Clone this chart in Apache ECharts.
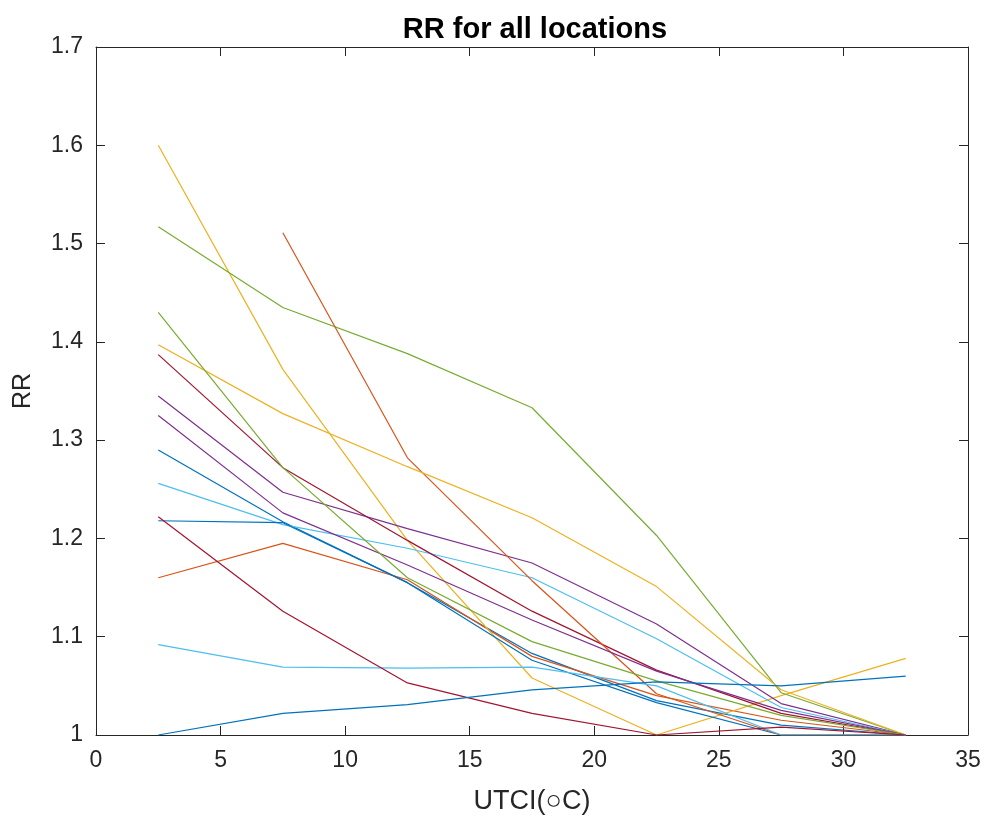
<!DOCTYPE html>
<html>
<head>
<meta charset="utf-8">
<script src="https://cdn.jsdelivr.net/npm/echarts@6/dist/echarts.min.js"></script>
<style>
html,body{margin:0;padding:0;background:#fff;}
#chart{width:984px;height:821px;}
</style>
</head>
<body>
<div id="chart"></div>
<script>
const utci = [2.5, 7.5, 12.5, 17.5, 22.5, 27.5, 32.5];
const xTicks = [0, 5, 10, 15, 20, 25, 30, 35];
const yTicks = [1, 1.1, 1.2, 1.3, 1.4, 1.5, 1.6, 1.7];

const loc01 = [1.290, 1.217, 1.155, 1.083, 1.035, 1.010, 1.000];
const loc02 = [1.160, 1.195, 1.158, 1.080, 1.040, 1.015, 1.000];
const loc03 = [1.600, 1.372, 1.198, 1.058, 1.000, 1.040, 1.078];
const loc04 = [1.345, 1.247, 1.210, 1.175, 1.113, 1.032, 1.000];
const loc05 = [1.517, 1.435, 1.388, 1.333, 1.203, 1.043, 1.000];
const loc06 = [1.256, 1.214, 1.190, 1.160, 1.098, 1.028, 1.000];
const loc07 = [1.387, 1.272, 1.198, 1.126, 1.066, 1.022, 1.000];
const loc08 = [1.218, 1.216, 1.155, 1.076, 1.033, 1.000, 1.000];
const loc09 = [null, 1.511, 1.282, 1.157, 1.042, 1.000, 1.000];
const loc10 = [1.397, 1.327, 1.273, 1.221, 1.151, 1.046, 1.000];
const loc11 = [1.325, 1.226, 1.173, 1.117, 1.065, 1.025, 1.000];
const loc12 = [1.430, 1.272, 1.160, 1.095, 1.055, 1.020, 1.000];
const loc13 = [1.092, 1.069, 1.068, 1.069, 1.050, 1.000, 1.000];
const loc14 = [1.222, 1.126, 1.053, 1.022, 1.000, 1.008, 1.000];
const loc15 = [1.000, 1.022, 1.031, 1.046, 1.054, 1.050, 1.060];

const allLocs = [loc01, loc02, loc03, loc04, loc05, loc06, loc07, loc08,
                 loc09, loc10, loc11, loc12, loc13, loc14, loc15];
const palette = ['#0072BD', '#D95319', '#EDB120', '#7E2F8E', '#77AC30', '#4DBEEE', '#A2142F'];

const axisColor = '#262626';
const font = '"Liberation Sans", Arial, Helvetica, sans-serif';

const chart = echarts.init(document.getElementById('chart'), null, {renderer: 'canvas'});

const series = allLocs.map((vals, i) => ({
  type: 'line',
  xAxisIndex: 0,
  yAxisIndex: 0,
  data: utci.map((x, j) => [x, vals[j]]),
  showSymbol: false,
  symbol: 'none',
  connectNulls: false,
  clip: true,
  lineStyle: {width: 1.2, color: palette[i % palette.length]},
  itemStyle: {color: palette[i % palette.length]},
  z: 2 + i
}));

const baseX = {
  type: 'value', min: xTicks[0], max: xTicks[xTicks.length - 1], interval: 5,
  splitLine: {show: false},
  axisLine: {show: true, onZero: false, lineStyle: {color: axisColor, width: 1}},
  axisTick: {show: true, inside: true, length: 9, lineStyle: {color: axisColor}}
};
const baseY = {
  type: 'value', min: yTicks[0], max: yTicks[yTicks.length - 1], interval: 0.1,
  splitLine: {show: false},
  axisLine: {show: true, onZero: false, lineStyle: {color: axisColor, width: 1}},
  axisTick: {show: true, inside: true, length: 9, lineStyle: {color: axisColor}}
};

chart.setOption({
  animation: false,
  backgroundColor: '#ffffff',
  title: {
    text: 'RR for all locations',
    left: 530, top: 10, textAlign: 'center',
    textStyle: {fontFamily: font, fontSize: 29, fontWeight: 'bold', color: '#000'}
  },
  grid: {left: 96, right: 16, top: 47, bottom: 86, containLabel: false},
  xAxis: [
    Object.assign({}, baseX, {
      position: 'bottom',
      name: 'UTCI(○C)', nameLocation: 'middle', nameGap: 53,
      nameTextStyle: {fontFamily: font, fontSize: 27, color: axisColor},
      axisLabel: {show: true, margin: 14, fontFamily: font, fontSize: 23, color: axisColor,
                  formatter: v => String(v)}
    }),
    Object.assign({}, baseX, {position: 'top', axisLabel: {show: false}})
  ],
  yAxis: [
    Object.assign({}, baseY, {
      position: 'left',
      name: 'RR', nameLocation: 'middle', nameGap: 60,
      nameTextStyle: {fontFamily: font, fontSize: 25, color: axisColor},
      axisLabel: {show: true, margin: 13, fontFamily: font, fontSize: 23, color: axisColor,
                  formatter: v => String(Math.round(v * 10) / 10)}
    }),
    Object.assign({}, baseY, {position: 'right', axisLabel: {show: false}})
  ],
  series: series
});
</script>
</body>
</html>
